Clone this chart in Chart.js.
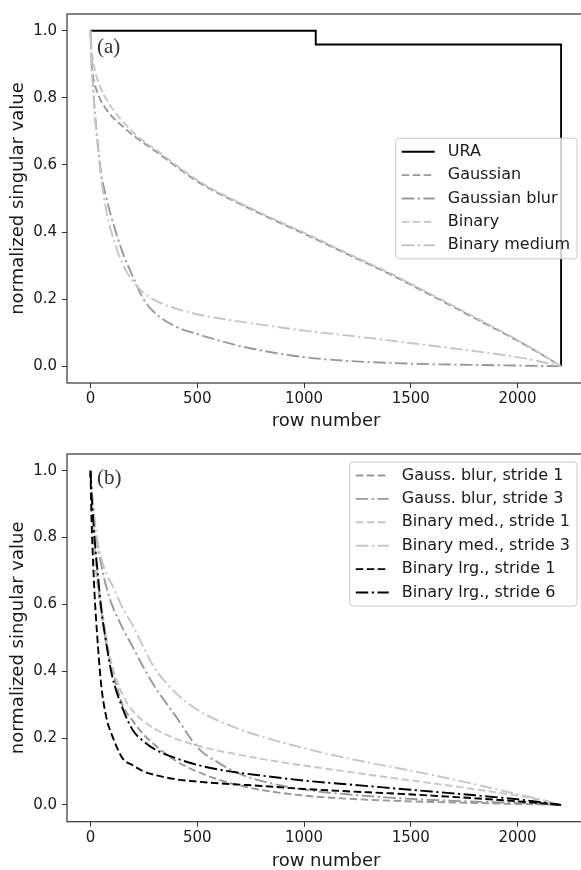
<!DOCTYPE html>
<html><head><meta charset="utf-8">
<script src="https://cdn.jsdelivr.net/npm/chart.js@4"></script>
<style>
html,body{margin:0;padding:0;background:#fff;overflow:hidden;width:581px;height:870px;}
.wrap{position:absolute;left:0;width:585px;height:435px;}
</style></head><body>
<div class="wrap" style="top:0"><canvas id="c1" width="585" height="435"></canvas></div>
<div class="wrap" style="top:440px"><canvas id="c2" width="585" height="435"></canvas></div>
<script>
// ---------- data ----------
const rows = [0,5,10,20,30,50,75,100,150,200,250,300,400,500,600,700,800,1000,1200,1400,1600,1800,2000,2100,2204];
const xTicks = [0,500,1000,1500,2000];
const yTicks = [0,0.2,0.4,0.6,0.8,1.0];

// panel (a)
const uraRows   = [0,1055,1055,2204,2204];
const uraValues = [1,1,0.959,0.959,0];
const gaussian       = [1,0.9,0.87,0.84,0.82,0.79,0.765,0.745,0.715,0.688,0.665,0.643,0.596,0.551,0.515,0.484,0.453,0.395,0.335,0.275,0.21,0.143,0.076,0.04,0];
const gaussianBlur   = [1,0.92,0.86,0.76,0.69,0.575,0.5,0.44,0.34,0.265,0.198,0.16,0.118,0.096,0.077,0.06,0.047,0.027,0.016,0.01,0.006,0.004,0.002,0.001,0];
const binary         = [1,0.95,0.92,0.885,0.86,0.825,0.795,0.77,0.73,0.697,0.67,0.648,0.6,0.555,0.518,0.487,0.456,0.398,0.338,0.278,0.213,0.146,0.078,0.041,0];
const binaryMedium   = [1,0.89,0.85,0.75,0.68,0.56,0.46,0.395,0.305,0.252,0.218,0.197,0.172,0.155,0.143,0.133,0.124,0.106,0.092,0.077,0.061,0.045,0.027,0.015,0];

// panel (b)
const gaussBlurS1 = [1,0.92,0.86,0.76,0.68,0.58,0.48,0.41,0.3,0.25,0.21,0.18,0.132,0.1,0.076,0.058,0.045,0.028,0.019,0.013,0.009,0.006,0.003,0.002,0];
const gaussBlurS3 = [1,0.95,0.91,0.84,0.79,0.72,0.65,0.6,0.53,0.47,0.41,0.355,0.265,0.173,0.126,0.093,0.072,0.046,0.032,0.022,0.015,0.01,0.006,0.003,0];
const binMedS1    = [1,0.93,0.87,0.78,0.7,0.6,0.5,0.42,0.33,0.28,0.25,0.228,0.198,0.178,0.162,0.15,0.138,0.118,0.1,0.082,0.065,0.047,0.028,0.016,0];
const binMedS3    = [1,0.95,0.91,0.85,0.8,0.74,0.69,0.66,0.59,0.535,0.47,0.41,0.335,0.285,0.252,0.226,0.205,0.17,0.14,0.115,0.09,0.062,0.032,0.018,0];
const binLrgS1    = [1,0.85,0.76,0.62,0.52,0.36,0.26,0.21,0.14,0.118,0.1,0.09,0.077,0.07,0.065,0.061,0.057,0.048,0.041,0.035,0.028,0.02,0.011,0.006,0];
const binLrgS6    = [1,0.93,0.88,0.79,0.72,0.59,0.48,0.39,0.29,0.222,0.19,0.167,0.14,0.12,0.106,0.096,0.088,0.073,0.062,0.051,0.04,0.029,0.017,0.009,0];

// ---------- styles ----------
const GRAY = '#999999', LIGHT = '#c6c6c6', BLACK = '#000000';
const DASH = [7.5, 3.5];
const DASHDOT = [12.5, 3.5, 2.2, 3.5];
const FONT = '"DejaVu Sans", sans-serif';

function pts(xs, ys){ return xs.map((x,i)=>({x:x, y:ys[i]})); }
function ds(label, xs, ys, color, dash, smooth, idx){
  return {
    label: label, data: pts(xs, ys), showLine: true, borderColor: color,
    backgroundColor: color, borderWidth: 1.9, borderDash: dash, pointRadius: 0,
    cubicInterpolationMode: smooth ? 'monotone' : 'default', tension: 0,
    order: 100 - idx, fill: false
  };
}

const framePlugin = {
  id: 'frame',
  afterDatasetsDraw(chart){
    const ctx = chart.ctx, a = chart.chartArea;
    ctx.save();
    ctx.strokeStyle = '#333333'; ctx.lineWidth = 1.2; ctx.setLineDash([]);
    ctx.strokeRect(a.left, a.top, a.right - a.left, a.bottom - a.top);
    ctx.restore();
  }
};

const boxLegendPlugin = {
  id: 'boxLegend',
  afterDatasetsDraw(chart, args, opts){
    const ctx = chart.ctx, a = chart.chartArea;
    const items = chart.data.datasets;
    ctx.save();
    ctx.font = '16px ' + FONT;
    const tw = Math.max.apply(null, items.map(d => ctx.measureText(d.label).width));
    const rowH = 23.4;
    const w = 52 + tw + 7;
    const h = (items.length - 1) * rowH + 27;
    const right = a.right - 8;
    const left = right - w;
    const top = opts.where === 'center' ? (a.top + a.bottom) / 2 - h / 2 : a.top + 8;
    // box
    const r = 3;
    ctx.beginPath();
    ctx.moveTo(left + r, top);
    ctx.lineTo(left + w - r, top); ctx.quadraticCurveTo(left + w, top, left + w, top + r);
    ctx.lineTo(left + w, top + h - r); ctx.quadraticCurveTo(left + w, top + h, left + w - r, top + h);
    ctx.lineTo(left + r, top + h); ctx.quadraticCurveTo(left, top + h, left, top + h - r);
    ctx.lineTo(left, top + r); ctx.quadraticCurveTo(left, top, left + r, top);
    ctx.closePath();
    ctx.fillStyle = 'rgba(255,255,255,0.8)'; ctx.fill();
    ctx.strokeStyle = '#cccccc'; ctx.lineWidth = 1; ctx.setLineDash([]); ctx.stroke();
    items.forEach((d, i) => {
      const y = top + 13.5 + i * rowH;
      ctx.beginPath();
      ctx.setLineDash(d.borderDash || []);
      ctx.strokeStyle = d.borderColor; ctx.lineWidth = d.borderWidth;
      ctx.moveTo(left + 6, y); ctx.lineTo(left + 39, y); ctx.stroke();
      ctx.setLineDash([]);
      ctx.fillStyle = '#1a1a1a'; ctx.textBaseline = 'middle'; ctx.textAlign = 'left';
      ctx.fillText(d.label, left + 52, y);
    });
    // panel label
    ctx.font = '21px "Liberation Serif", serif';
    ctx.fillStyle = '#333333'; ctx.textBaseline = 'middle'; ctx.textAlign = 'left';
    ctx.fillText(opts.panel, a.left + 30, a.top + opts.panelDy);
    ctx.restore();
  }
};

function makeOptions(areaTop, areaBottom, canvasH, where, panel, panelDy){
  const tickFont = {family: FONT, size: 15};
  const titleFont = {family: FONT, size: 18, lineHeight: 1.2};
  return {
    responsive: false, animation: false,
    layout: {padding: {top: areaTop, left: 0, right: 0, bottom: 0}},
    plugins: {
      legend: {display: false}, tooltip: {enabled: false},
      boxLegend: {where: where, panel: panel, panelDy: panelDy}
    },
    scales: {
      x: {
        type: 'linear', min: -110, max: 2316,
        afterBuildTicks: s => { s.ticks = xTicks.map(v => ({value: v})); },
        afterFit: s => { s.height = canvasH - areaBottom; },
        ticks: {font: tickFont, color: '#1a1a1a', padding: 2, autoSkip: false, maxRotation: 0,
                callback: v => String(v)},
        grid: {drawOnChartArea: false, drawTicks: true, tickLength: 5, color: '#333333', lineWidth: 1},
        border: {display: false},
        title: {display: true, text: 'row number', font: titleFont, color: '#1a1a1a', padding: {top: 0, bottom: 3}}
      },
      y: {
        type: 'linear', min: -0.05, max: 1.05,
        afterBuildTicks: s => { s.ticks = yTicks.map(v => ({value: v})); },
        afterFit: s => { s.width = 67; },
        ticks: {font: tickFont, color: '#1a1a1a', padding: 5, autoSkip: false,
                callback: v => Number(v).toFixed(1)},
        grid: {drawOnChartArea: false, drawTicks: true, tickLength: 5, color: '#333333', lineWidth: 1},
        border: {display: false},
        title: {display: true, text: 'normalized singular value', font: titleFont, color: '#1a1a1a', padding: {top: 8, bottom: 0}}
      }
    }
  };
}

new Chart(document.getElementById('c1'), {
  type: 'scatter',
  data: {datasets: [
    ds('URA', uraRows, uraValues, BLACK, [], false, 0),
    ds('Gaussian', rows, gaussian, GRAY, DASH, true, 1),
    ds('Gaussian blur', rows, gaussianBlur, GRAY, DASHDOT, true, 2),
    ds('Binary', rows, binary, LIGHT, DASH, true, 3),
    ds('Binary medium', rows, binaryMedium, LIGHT, DASHDOT, true, 4)
  ]},
  options: makeOptions(8, 383, 435, 'center', '(a)', 33.5),
  plugins: [framePlugin, boxLegendPlugin]
});

new Chart(document.getElementById('c2'), {
  type: 'scatter',
  data: {datasets: [
    ds('Gauss. blur, stride 1', rows, gaussBlurS1, GRAY, DASH, true, 0),
    ds('Gauss. blur, stride 3', rows, gaussBlurS3, GRAY, DASHDOT, true, 1),
    ds('Binary med., stride 1', rows, binMedS1, LIGHT, DASH, true, 2),
    ds('Binary med., stride 3', rows, binMedS3, LIGHT, DASHDOT, true, 3),
    ds('Binary lrg., stride 1', rows, binLrgS1, BLACK, DASH, true, 4),
    ds('Binary lrg., stride 6', rows, binLrgS6, BLACK, DASHDOT, true, 5)
  ]},
  options: makeOptions(7.3, 381.7, 435, 'top', '(b)', 24.5),
  plugins: [framePlugin, boxLegendPlugin]
});
</script>
</body></html>
